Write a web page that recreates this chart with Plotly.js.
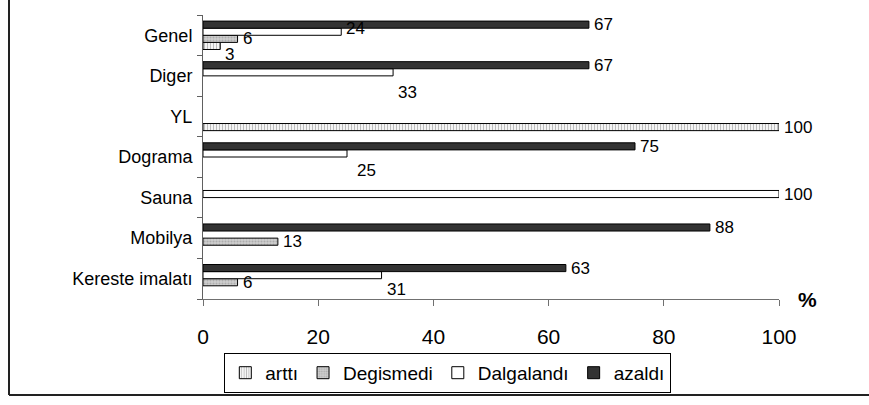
<!DOCTYPE html>
<html>
<head>
<meta charset="utf-8">
<script src="https://cdn.plot.ly/plotly-3.0.1.min.js"></script>
<style>
html,body{margin:0;padding:0;background:#fff;}
#chart{width:869px;height:405px;}
</style>
</head>
<body>
<div id="chart"></div>
<script>
// ---- data ----
const categories = ['Kereste imalatı', 'Mobilya', 'Sauna', 'Dograma', 'YL', 'Diger', 'Genel'];
const seriesNames = ['arttı', 'Degismedi', 'Dalgalandı', 'azaldı'];
const arttiValues      = [null, null, null, null, 100, null, 3];
const degismediValues  = [6, 13, null, null, null, null, 6];
const dalgalandiValues = [31, null, 100, 25, null, 33, 24];
const azaldiValues     = [63, 88, null, 75, null, 67, 67];
const xTickValues = [0, 20, 40, 60, 80, 100];

const allValues = [arttiValues, degismediValues, dalgalandiValues, azaldiValues];

// ---- styles ----
const FONT = 'Arial, "Liberation Sans", sans-serif';
const markers = [
  {color: '#ffffff', line: {color: '#000', width: 1}, pattern: {shape: '|', fgcolor: '#7a7a7a', bgcolor: '#ffffff', size: 3, solidity: 0.45, fillmode: 'overlay'}},
  {color: '#c8c8c8', line: {color: '#000', width: 1}, pattern: {shape: '.', fgcolor: '#8a8a8a', bgcolor: '#d0d0d0', size: 3, solidity: 0.4, fillmode: 'overlay'}},
  {color: '#ffffff', line: {color: '#000', width: 1}},
  {color: '#333333', line: {color: '#000', width: 1}}
];

const traces = seriesNames.map((name, k) => ({
  type: 'bar',
  orientation: 'h',
  name: name,
  y: categories,
  x: allValues[k],
  marker: markers[k],
  hoverinfo: 'x+y+name'
}));

// label annotations placed at each bar's end (Excel-like offsets for a few labels)
const bargap = 0.3;
const nSeries = seriesNames.length;
const barW = (1 - bargap) / nSeries;
const labelNudge = { // [dx, dy] in pixels (dy positive = down)
  'Dalgalandı|Genel': [0, -3],
  'arttı|Genel': [0, 9],
  'Dalgalandı|Diger': [0, 20],
  'Dalgalandı|Dograma': [5, 17],
  'Dalgalandı|Kereste imalatı': [0, 14]
};
const annotations = [];
seriesNames.forEach((name, k) => {
  allValues[k].forEach((v, i) => {
    if (v === null) return;
    const nudge = labelNudge[name + '|' + categories[i]] || [0, 0];
    annotations.push({
      x: v, y: i - (1 - bargap) / 2 + barW * (k + 0.5),
      xref: 'x', yref: 'y',
      text: String(v), showarrow: false,
      xanchor: 'left', yanchor: 'middle',
      xshift: 3 + nudge[0], yshift: -nudge[1],
      font: {family: FONT, size: 17, color: '#000'}
    });
  });
});
annotations.push({
  x: 1.05, y: 0, xref: 'paper', yref: 'paper', text: '<b>%</b>', showarrow: false,
  xanchor: 'center', yanchor: 'middle', font: {family: FONT, size: 21, color: '#000'}
});

const layout = {
  width: 869, height: 405,
  margin: {l: 203, r: 90, t: 15, b: 100},
  paper_bgcolor: '#ffffff', plot_bgcolor: '#ffffff',
  barmode: 'group', bargap: bargap, bargroupgap: 0,
  font: {family: FONT, color: '#000'},
  showlegend: true,
  legend: {
    orientation: 'h', x: 0.425, y: -0.26, xanchor: 'center', yanchor: 'middle',
    bordercolor: '#000', borderwidth: 1, bgcolor: '#fff',
    font: {family: FONT, size: 19, color: '#000'},
    traceorder: 'normal', itemwidth: 30
  },
  xaxis: {
    range: [0, 100], tickvals: xTickValues, ticktext: xTickValues.map(String),
    showgrid: false, zeroline: false,
    showline: true, linecolor: '#707070', linewidth: 1,
    ticks: 'outside', ticklen: 6, tickcolor: '#707070', tickwidth: 1,
    tickfont: {family: FONT, size: 21, color: '#000'},
    ticklabelstandoff: 13, fixedrange: true
  },
  yaxis: {
    type: 'category', categoryorder: 'array', categoryarray: categories,
    range: [-0.5, 6.5],
    showgrid: false, zeroline: false,
    showline: true, linecolor: '#606060', linewidth: 1,
    ticks: 'outside', ticklen: 5, tickcolor: '#606060', tickwidth: 1,
    tickson: 'boundaries',
    tickfont: {family: FONT, size: 18, color: '#000'},
    ticklabelstandoff: 6, fixedrange: true
  },
  annotations: annotations,
  shapes: [
    {type: 'line', xref: 'paper', yref: 'paper', x0: -0.3368, x1: 1.2, y0: -0.338, y1: -0.338, line: {color: '#222', width: 2}},
    {type: 'line', xref: 'paper', yref: 'paper', x0: -0.3368, x1: -0.3368, y0: -0.338, y1: 1.1, line: {color: '#222', width: 2}}
  ]
};

Plotly.newPlot('chart', traces, layout, {displayModeBar: false, staticPlot: true});
</script>
</body>
</html>
